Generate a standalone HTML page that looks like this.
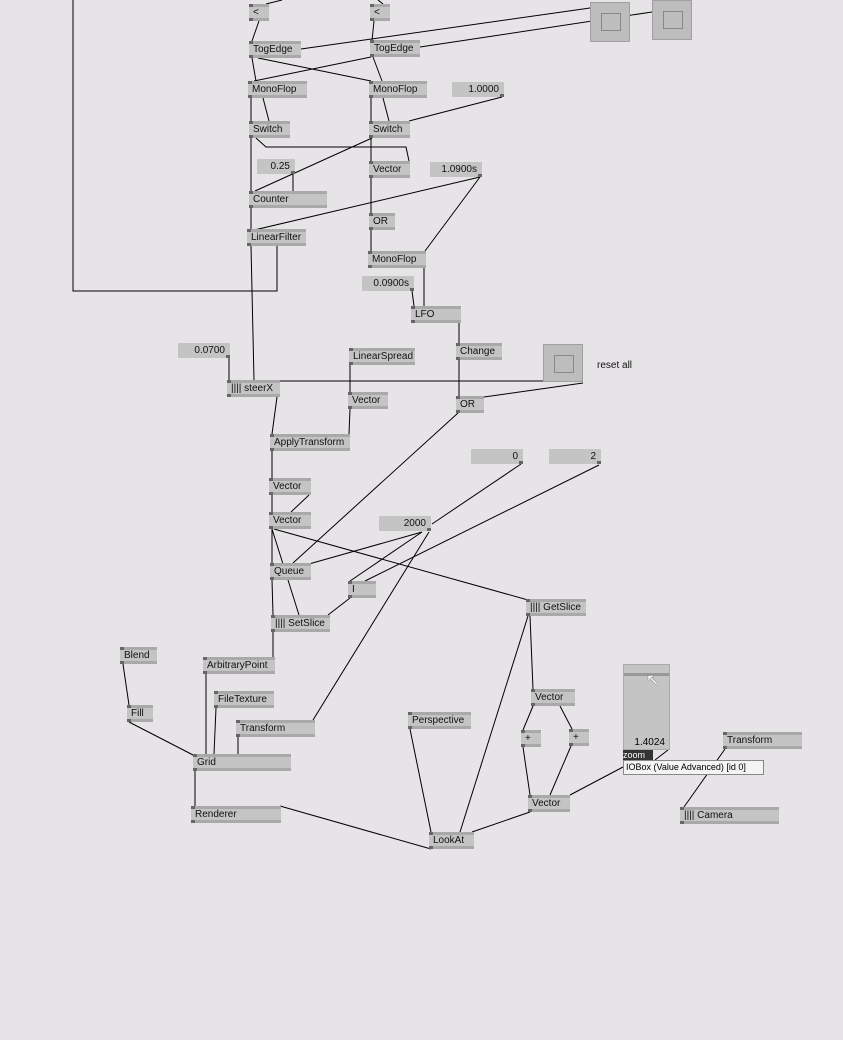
<!DOCTYPE html>
<html><head><meta charset="utf-8"><style>
html,body{margin:0;padding:0}
body{width:843px;height:1040px;background:#e7e4e7;position:relative;overflow:hidden;font-family:"Liberation Sans",sans-serif}
svg{position:absolute;left:0;top:0}
.n{position:absolute;height:17px;background:#c4c4c4;border-top:3px solid #a9a9a9;border-bottom:3px solid #a9a9a9;box-sizing:border-box;font-size:10px;line-height:11px;padding-left:4px;color:#111;white-space:nowrap}
.n::before{content:"";position:absolute;left:0;top:-3px;width:4px;height:3px;background:#666}
.n::after{content:"";position:absolute;left:0;bottom:-3px;width:4px;height:3px;background:#666}
.io{position:absolute;height:15px;background:#c4c4c4;font-size:10px;line-height:15px;text-align:right;padding-right:5px;box-sizing:border-box;color:#111}
.io::after{content:"";position:absolute;right:0;bottom:0;width:4px;height:3px;background:#666}
.tg{position:absolute;width:40px;height:40px;background:#bdbdbd;border:1px solid #a0a0a0;box-sizing:border-box}
.tg::before{content:"";position:absolute;left:10px;top:10px;width:18px;height:16px;border:1px solid #888}
.t{position:absolute;font-size:10px;color:#111}
</style></head><body>
<svg width="843" height="1040" stroke="#000" stroke-width="1" fill="none">
<polyline points="73,0 73,291 277,291 277,246"/>
<line x1="259" y1="21" x2="252" y2="41"/><line x1="374" y1="21" x2="372" y2="41"/>
<line x1="266" y1="4" x2="282" y2="0"/><line x1="383" y1="4" x2="378" y2="0"/>
<line x1="301" y1="49" x2="590" y2="8"/><line x1="420" y1="47" x2="652" y2="12"/>
<line x1="252" y1="58" x2="256" y2="81"/><line x1="258" y1="58" x2="371" y2="81"/>
<line x1="371" y1="57" x2="254" y2="81"/><line x1="373" y1="57" x2="382" y2="81"/>
<line x1="251" y1="98" x2="251" y2="121"/><line x1="263" y1="98" x2="269" y2="121"/>
<line x1="371" y1="98" x2="371" y2="121"/><line x1="383" y1="98" x2="389" y2="121"/>
<line x1="502" y1="97" x2="409" y2="121"/>
<line x1="251" y1="138" x2="251" y2="191"/>
<polyline points="256,138 266,147 406,147 409,161"/>
<line x1="372" y1="138" x2="255" y2="191"/>
<line x1="293" y1="174" x2="293" y2="191"/>
<line x1="371" y1="138" x2="371" y2="161"/>
<line x1="371" y1="178" x2="371" y2="213"/><line x1="371" y1="230" x2="371" y2="251"/>
<line x1="480" y1="177" x2="250" y2="231"/><line x1="480" y1="177" x2="425" y2="251"/>
<line x1="251" y1="208" x2="251" y2="229"/>
<line x1="251" y1="246" x2="254" y2="380"/>
<line x1="424" y1="268" x2="424" y2="306"/><line x1="412" y1="291" x2="414" y2="306"/>
<line x1="459" y1="323" x2="459" y2="343"/><line x1="459" y1="360" x2="459" y2="396"/>
<line x1="583" y1="383" x2="484" y2="397"/><line x1="280" y1="381" x2="543" y2="381"/>
<line x1="229" y1="358" x2="229" y2="380"/>
<line x1="350" y1="365" x2="350" y2="392"/><line x1="350" y1="409" x2="349" y2="434"/>
<line x1="277" y1="397" x2="272" y2="434"/>
<line x1="272" y1="451" x2="272" y2="478"/><line x1="272" y1="495" x2="272" y2="512"/>
<line x1="309" y1="495" x2="291" y2="512"/>
<line x1="272" y1="529" x2="272" y2="563"/><line x1="272" y1="529" x2="299" y2="615"/>
<line x1="274" y1="529" x2="528" y2="600"/>
<line x1="458" y1="413" x2="293" y2="563"/>
<line x1="521" y1="464" x2="432" y2="524"/>
<line x1="422" y1="532" x2="309" y2="564"/><line x1="422" y1="532" x2="350" y2="581"/>
<line x1="429" y1="532" x2="313" y2="720"/>
<line x1="599" y1="465" x2="365" y2="581"/>
<line x1="272" y1="580" x2="273" y2="615"/>
<line x1="350" y1="598" x2="328" y2="615"/>
<line x1="273" y1="632" x2="273" y2="657"/>
<line x1="206" y1="674" x2="206" y2="754"/><line x1="216" y1="708" x2="214" y2="754"/>
<line x1="238" y1="737" x2="238" y2="754"/>
<line x1="123" y1="664" x2="129" y2="705"/><line x1="129" y1="722" x2="195" y2="756"/>
<line x1="195" y1="771" x2="195" y2="806"/>
<line x1="280" y1="806" x2="431" y2="849"/>
<line x1="410" y1="729" x2="431" y2="832"/>
<line x1="528" y1="616" x2="460" y2="832"/><line x1="530" y1="616" x2="533" y2="689"/>
<line x1="533" y1="706" x2="523" y2="730"/><line x1="560" y1="706" x2="572" y2="729"/>
<line x1="523" y1="747" x2="530" y2="795"/><line x1="571" y1="746" x2="550" y2="795"/>
<line x1="530" y1="812" x2="472" y2="832"/><line x1="570" y1="795" x2="623" y2="767"/>
<line x1="668" y1="750" x2="655" y2="760"/><line x1="725" y1="749" x2="684" y2="807"/>
</svg>

<div class="n" style="left:249px;top:4px;width:20px">&lt;</div>
<div class="n" style="left:370px;top:4px;width:20px">&lt;</div>
<div class="n" style="left:249px;top:41px;width:52px">TogEdge</div>
<div class="n" style="left:370px;top:40px;width:50px">TogEdge</div>
<div class="n" style="left:248px;top:81px;width:59px">MonoFlop</div>
<div class="n" style="left:369px;top:81px;width:58px">MonoFlop</div>
<div class="io" style="left:452px;top:82px;width:52px">1.0000</div>
<div class="n" style="left:249px;top:121px;width:41px">Switch</div>
<div class="n" style="left:369px;top:121px;width:41px">Switch</div>
<div class="io" style="left:257px;top:159px;width:38px">0.25</div>
<div class="n" style="left:369px;top:161px;width:41px">Vector</div>
<div class="io" style="left:430px;top:162px;width:52px">1.0900s</div>
<div class="n" style="left:249px;top:191px;width:78px">Counter</div>
<div class="n" style="left:369px;top:213px;width:26px">OR</div>
<div class="n" style="left:247px;top:229px;width:59px">LinearFilter</div>
<div class="n" style="left:368px;top:251px;width:58px">MonoFlop</div>
<div class="io" style="left:362px;top:276px;width:52px">0.0900s</div>
<div class="n" style="left:411px;top:306px;width:50px">LFO</div>
<div class="tg" style="left:590px;top:2px"></div>
<div class="tg" style="left:652px;top:0px"></div>
<div class="n" style="left:349px;top:348px;width:66px">LinearSpread</div>
<div class="n" style="left:456px;top:343px;width:46px">Change</div>
<div class="tg" style="left:543px;top:344px;height:38px"></div>
<div class="t" style="left:597px;top:360px">reset all</div>
<div class="io" style="left:178px;top:343px;width:52px">0.0700</div>
<div class="n" style="left:227px;top:380px;width:53px">|||| steerX</div>
<div class="n" style="left:348px;top:392px;width:40px">Vector</div>
<div class="n" style="left:456px;top:396px;width:28px">OR</div>
<div class="n" style="left:270px;top:434px;width:80px">ApplyTransform</div>
<div class="io" style="left:471px;top:449px;width:52px">0</div>
<div class="io" style="left:549px;top:449px;width:52px">2</div>
<div class="n" style="left:269px;top:478px;width:42px">Vector</div>
<div class="n" style="left:269px;top:512px;width:42px">Vector</div>
<div class="io" style="left:379px;top:516px;width:52px">2000</div>
<div class="n" style="left:270px;top:563px;width:41px">Queue</div>
<div class="n" style="left:348px;top:581px;width:28px">I</div>
<div class="n" style="left:526px;top:599px;width:60px">|||| GetSlice</div>
<div class="n" style="left:271px;top:615px;width:59px">|||| SetSlice</div>
<div class="n" style="left:120px;top:647px;width:37px">Blend</div>
<div class="n" style="left:203px;top:657px;width:72px">ArbitraryPoint</div>
<div class="n" style="left:214px;top:691px;width:60px">FileTexture</div>
<div class="n" style="left:127px;top:705px;width:26px">Fill</div>
<div class="n" style="left:531px;top:689px;width:44px">Vector</div>
<div class="n" style="left:236px;top:720px;width:79px">Transform</div>
<div class="n" style="left:408px;top:712px;width:63px">Perspective</div>
<div class="n" style="left:521px;top:730px;width:20px">+</div>
<div class="n" style="left:569px;top:729px;width:20px">+</div>
<div class="n" style="left:193px;top:754px;width:98px">Grid</div>
<div style="position:absolute;left:623px;top:664px;width:47px;height:86px;background:#c4c4c4;border:1px solid #aaa;box-sizing:border-box"><div style="position:absolute;left:0;top:8px;width:45px;height:3px;background:#999"></div><div style="position:absolute;right:4px;bottom:1px;font-size:10px">1.4024</div></div>
<div style="position:absolute;left:646px;top:670px;font-size:16px;color:#fff;text-shadow:0 0 1px #000">&#x2196;</div>
<div style="position:absolute;left:623px;top:750px;width:30px;height:10px;background:#333;color:#fff;font-size:9px;line-height:11px;overflow:hidden">zoom</div>
<div style="position:absolute;left:623px;top:760px;width:141px;height:15px;background:#f4f4f4;border:1px solid #888;box-sizing:border-box;font-size:9px;line-height:13px;padding-left:2px">IOBox (Value Advanced) [id 0]</div>
<div class="n" style="left:723px;top:732px;width:79px">Transform</div>
<div class="n" style="left:528px;top:795px;width:42px">Vector</div>
<div class="n" style="left:191px;top:806px;width:90px">Renderer</div>
<div class="n" style="left:680px;top:807px;width:99px">|||| Camera</div>
<div class="n" style="left:429px;top:832px;width:45px">LookAt</div>
</body></html>
